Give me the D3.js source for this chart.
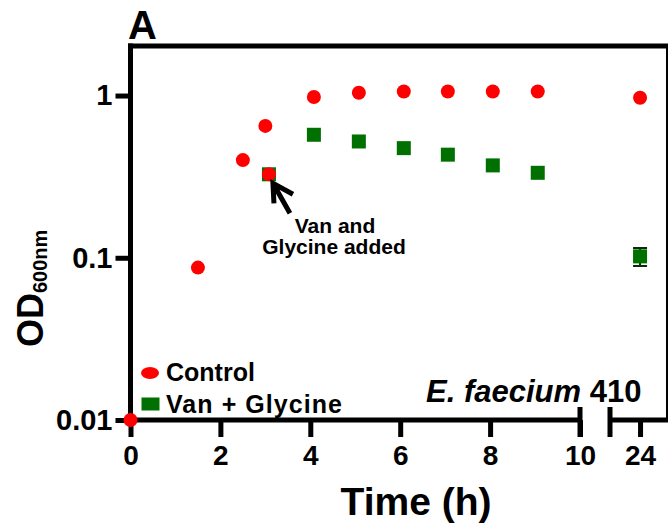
<!DOCTYPE html>
<html>
<head>
<meta charset="utf-8">
<script src="https://cdn.jsdelivr.net/npm/d3@7"></script>
<style>
  body { margin: 0; background: #fff; }
  text { font-family: "Liberation Sans", Arial, sans-serif; font-weight: bold; fill: #000; }
</style>
</head>
<body>
<script>
// growth curve, E. faecium 410
let ctrlTime = [0, 1.5, 2.5, 3, 4.08, 5.08, 6.08, 7.06, 8.06, 9.06, 24];
let ctrlOD   = [0.01, 0.087, 0.40, 0.65, 0.98, 1.04, 1.06, 1.06, 1.06, 1.06, 0.97];

let vanTime = [3.08, 4.08, 5.08, 6.08, 7.06, 8.06, 9.06, 24];
let vanOD   = [0.327, 0.573, 0.521, 0.474, 0.432, 0.371, 0.334, 0.102];
let vanErr  = [0, 0, 0, 0, 0, 0, 0, 0.013];

// sample taken when vancomycin + glycine were added
let addedTime = [3.08];
let addedOD   = [0.327];

let xTicks1 = [0, 2, 4, 6, 8, 10];
let xTicks2 = [24];
let yTicks  = [0.01, 0.1, 1];

let width = 670,
    height = 529;

let svg = d3.select("body")
    .append("svg")
    .attr("width", width)
    .attr("height", height);

let x1 = d3.scaleLinear().domain([0, 10]).range([130.5, 580]);
let x2 = d3.scaleLinear().domain([23, 24.93]).range([610, 668]);
let y = d3.scaleLog().domain([0.01, 2.02]).range([420, 46]);

let xPos = t => t > 10 ? x2(t) : x1(t);

let red = "#ff0000",
    green = "#007000";

// frame
let y0 = y.range()[0], yTop = y.range()[1];
svg.append("line")
    .attr("x1", x1.range()[0] - 2.5).attr("x2", x2.range()[1])
    .attr("y1", yTop).attr("y2", yTop)
    .attr("stroke", "#000").attr("stroke-width", 5);
svg.append("line")
    .attr("x1", x2.range()[1] - 1).attr("x2", x2.range()[1] - 1)
    .attr("y1", yTop).attr("y2", y0)
    .attr("stroke", "#000").attr("stroke-width", 2);
svg.append("line")
    .attr("x1", x1.range()[0]).attr("x2", x1.range()[0])
    .attr("y1", yTop - 2.5).attr("y2", y0)
    .attr("stroke", "#000").attr("stroke-width", 5);
svg.append("line")
    .attr("x1", x1.range()[0]).attr("x2", x1.range()[1])
    .attr("y1", y0).attr("y2", y0)
    .attr("stroke", "#000").attr("stroke-width", 5);
svg.append("line")
    .attr("x1", x2.range()[0]).attr("x2", x2.range()[1])
    .attr("y1", y0).attr("y2", y0)
    .attr("stroke", "#000").attr("stroke-width", 5);

// break caps
[x1.range()[1], x2.range()[0]].forEach(bx => {
  svg.append("line")
      .attr("x1", bx).attr("x2", bx)
      .attr("y1", y0 - 13).attr("y2", y0 + 17)
      .attr("stroke", "#000").attr("stroke-width", 5);
});

// axes
function styleAxis(g) {
  g.select(".domain").remove();
  g.selectAll(".tick line").attr("stroke", "#000").attr("stroke-width", 5);
  g.selectAll(".tick text").attr("fill", "#000");
}

svg.append("g")
    .attr("transform", "translate(" + x1.range()[0] + ",0)")
    .call(d3.axisLeft(y).tickValues(yTicks).tickSize(15).tickPadding(3)
      .tickFormat(d => d === 1 ? "1" : d === 0.1 ? "0.1" : "0.01"))
    .call(styleAxis)
    .selectAll(".tick text").style("font-size", "29px");

svg.append("g")
    .attr("transform", "translate(0," + y0 + ")")
    .call(d3.axisBottom(x1).tickValues(xTicks1).tickSize(17).tickPadding(8).tickFormat(d3.format("d")))
    .call(styleAxis)
    .selectAll(".tick text").style("font-size", "28px");

svg.append("g")
    .attr("transform", "translate(0," + y0 + ")")
    .call(d3.axisBottom(x2).tickValues(xTicks2).tickSize(17).tickPadding(8).tickFormat(d3.format("d")))
    .call(styleAxis)
    .selectAll(".tick text").style("font-size", "28px");

// labels
svg.append("text")
    .attr("x", 416).attr("y", 515)
    .attr("text-anchor", "middle")
    .style("font-size", "39px")
    .text("Time (h)");

let yl = svg.append("text")
    .attr("transform", "translate(43,347) rotate(-90)")
    .style("font-size", "36px");
yl.append("tspan").text("OD");
yl.append("tspan").attr("dy", 4).style("font-size", "20px").text("600nm");

svg.append("text")
    .attr("x", 128).attr("y", 39)
    .style("font-size", "40px")
    .text("A");

let sp = svg.append("text")
    .attr("x", 426).attr("y", 402)
    .style("font-size", "31px");
sp.append("tspan").style("font-style", "italic").text("E. faecium");
sp.append("tspan").text(" 410");

// data
let vanData = vanTime.map((t, i) => ({t: t, od: vanOD[i], err: vanErr[i]}));
let ctrlData = ctrlTime.map((t, i) => ({t: t, od: ctrlOD[i]}));
let addedData = addedTime.map((t, i) => ({t: t, od: addedOD[i]}));

let sq = 14;

svg.selectAll(".err")
    .data(vanData.filter(d => d.err > 0))
    .enter()
    .append("path")
    .attr("class", "err")
    .attr("d", d => {
      let cx = xPos(d.t), hi = y(d.od + d.err), lo = y(d.od - d.err);
      return "M" + (cx - 7) + "," + hi + "H" + (cx + 7) +
             "M" + cx + "," + hi + "V" + lo +
             "M" + (cx - 7) + "," + lo + "H" + (cx + 7);
    })
    .attr("stroke", "#0a2a0a")
    .attr("stroke-width", 2)
    .attr("fill", "none");

svg.selectAll(".van")
    .data(vanData)
    .enter()
    .append("rect")
    .attr("class", "van")
    .attr("x", d => xPos(d.t) - sq / 2)
    .attr("y", d => y(d.od) - sq / 2)
    .attr("width", sq)
    .attr("height", sq)
    .attr("fill", green);

svg.selectAll(".ctrl")
    .data(ctrlData.concat(addedData))
    .enter()
    .append("circle")
    .attr("class", "ctrl")
    .attr("cx", d => xPos(d.t))
    .attr("cy", d => y(d.od))
    .attr("r", 7)
    .attr("fill", red);

// annotation arrow
let ax = xPos(addedTime[0]) + 4,
    ay = y(addedOD[0]) + 9;
svg.append("path")
    .attr("d", "M" + (ax + 1) + "," + (ay + 20) + "L" + ax + "," + ay + "L" + (ax + 20) + "," + (ay + 11) +
               "M" + ax + "," + ay + "L" + (ax + 17) + "," + (ay + 30))
    .attr("stroke", "#000")
    .attr("stroke-width", 5)
    .attr("fill", "none");

svg.append("text")
    .attr("x", 335).attr("y", 233)
    .attr("text-anchor", "middle")
    .style("font-size", "21px")
    .text("Van and");
svg.append("text")
    .attr("x", 334).attr("y", 254)
    .attr("text-anchor", "middle")
    .style("font-size", "21px")
    .text("Glycine added");

// legend
svg.append("ellipse")
    .attr("cx", 150).attr("cy", 373)
    .attr("rx", 9).attr("ry", 6)
    .attr("fill", red);
svg.append("rect")
    .attr("x", 141.5).attr("y", 397.5)
    .attr("width", 18).attr("height", 13)
    .attr("fill", green);
svg.append("text")
    .attr("x", 166).attr("y", 381)
    .style("font-size", "25px")
    .text("Control");
svg.append("text")
    .attr("x", 166).attr("y", 413)
    .style("font-size", "25px")
    .attr("textLength", 176)
    .text("Van + Glycine");
</script>
</body>
</html>
